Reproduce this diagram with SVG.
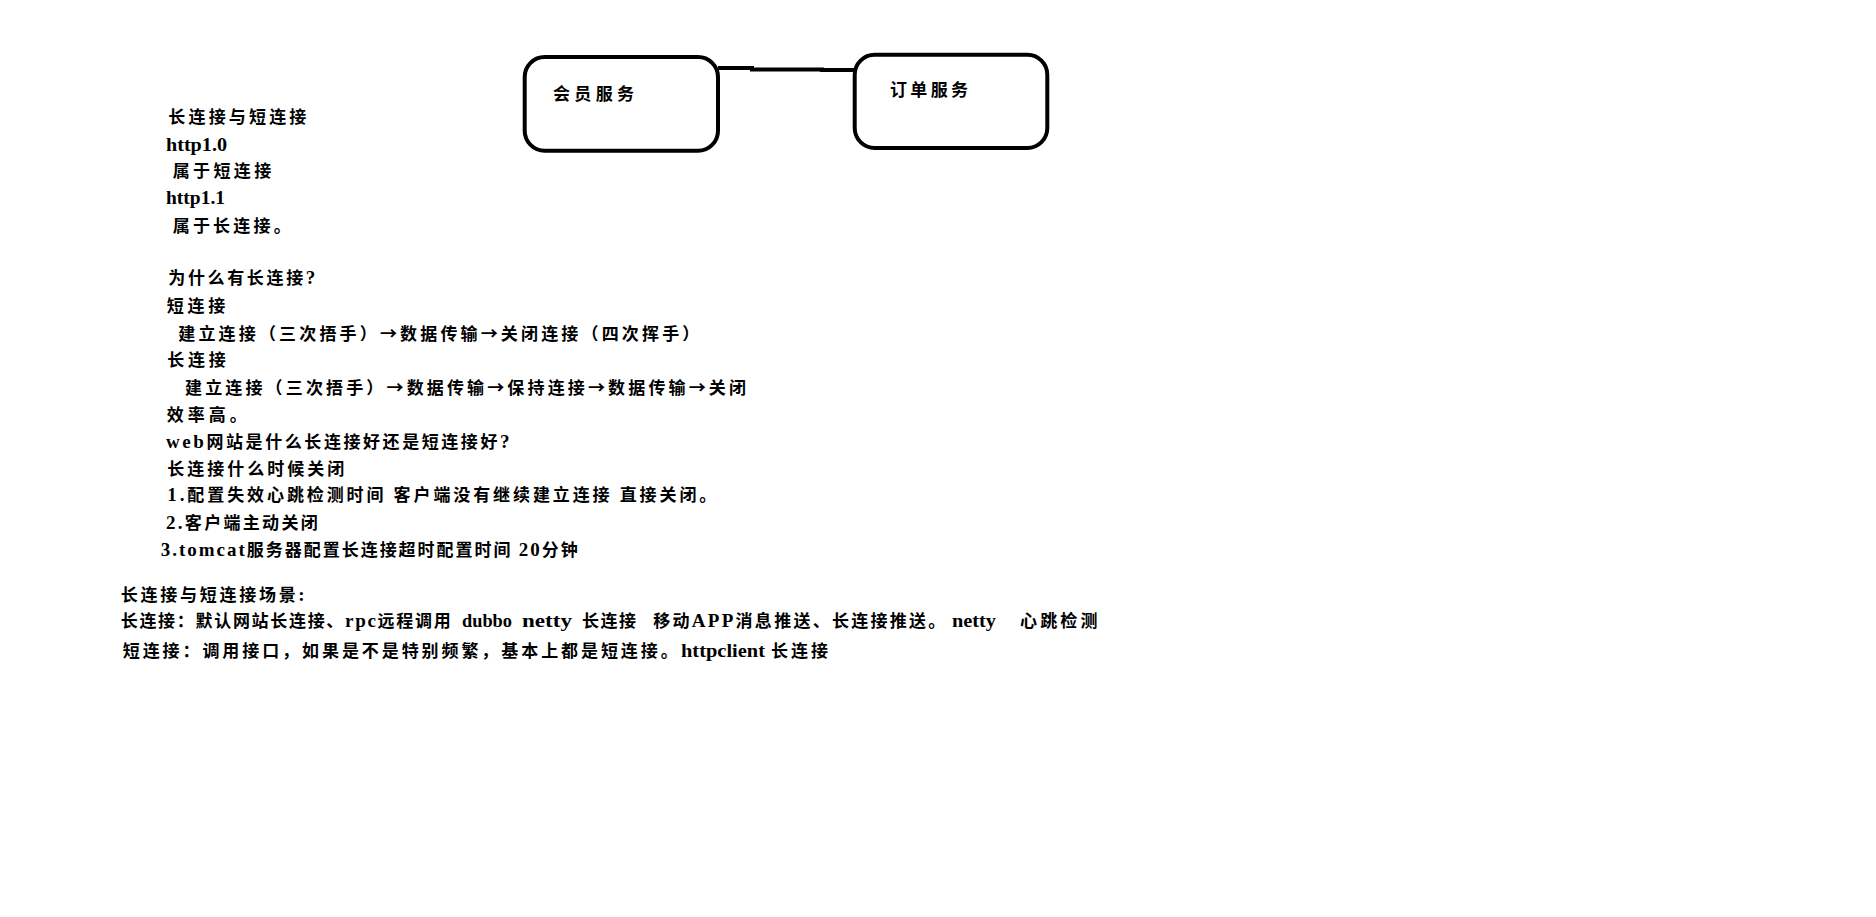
<svg xmlns="http://www.w3.org/2000/svg" width="1876" height="917" viewBox="0 0 1876 917">
<style>
text{font-family:"Liberation Serif","Noto Sans CJK SC",serif;font-weight:bold;font-size:17px;fill:#000}
text.cjk{font-family:"Noto Sans CJK SC",sans-serif}
.lat{font-size:19px}
.box{fill:#fff;stroke:#000;stroke-width:4}
.conn{fill:none;stroke:#000;stroke-width:4}
</style>
<rect width="1876" height="917" fill="#fff"/>
<g id="connectors">
<polyline class="conn" points="718,68 752,68 752,69.5 822,69.5 822,70 855,70"/>
</g>
<g id="member-service">
<rect class="box" x="524.7" y="57" width="193.3" height="93.7" rx="20"/>
<text x="553" y="100" textLength="81" lengthAdjust="spacing">会员服务</text>
</g>
<g id="order-service">
<rect class="box" x="854.7" y="54.7" width="192.6" height="93.3" rx="20"/>
<text x="890" y="96" textLength="78" lengthAdjust="spacing">订单服务</text>
</g>
<g id="notes">
<text x="168.3" y="123" textLength="138" lengthAdjust="spacing">长连接与短连接</text>
<text class="lat" x="166" y="150.5" textLength="61" lengthAdjust="spacingAndGlyphs">http1.0</text>
<text x="172.7" y="177" textLength="98.5" lengthAdjust="spacing">属于短连接</text>
<text class="lat" x="166" y="204" textLength="59" lengthAdjust="spacingAndGlyphs">http1.1</text>
<text x="172.7" y="231.5" textLength="118" lengthAdjust="spacing">属于长连接。</text>
<text x="168.3" y="284" textLength="147" lengthAdjust="spacing">为什么有长连接<tspan class="lat">?</tspan></text>
<text x="166.7" y="312" textLength="58.5" lengthAdjust="spacing">短连接</text>
<text class="cjk" x="178.3" y="339.5" textLength="521" lengthAdjust="spacing">建立连接（三次捂手）→数据传输→关闭连接（四次挥手）</text>
<text x="167.3" y="366" textLength="58.5" lengthAdjust="spacing">长连接</text>
<text class="cjk" x="185" y="394" textLength="561" lengthAdjust="spacing">建立连接（三次捂手）→数据传输→保持连接→数据传输→关闭</text>
<text x="166.7" y="421" textLength="80" lengthAdjust="spacing">效率高。</text>
<text x="166" y="448" textLength="343.5" lengthAdjust="spacing"><tspan class="lat">web</tspan>网站是什么长连接好还是短连接好<tspan class="lat">?</tspan></text>
<text x="167.3" y="474.5" textLength="177" lengthAdjust="spacing">长连接什么时候关闭</text>
<text x="167.3" y="501" textLength="549" lengthAdjust="spacing"><tspan class="lat">1.</tspan>配置失效心跳检测时间 客户端没有继续建立连接 直接关闭。</text>
<text x="166" y="528.7" textLength="151.7" lengthAdjust="spacing"><tspan class="lat">2.</tspan>客户端主动关闭</text>
<text x="160.7" y="556" textLength="417" lengthAdjust="spacing"><tspan class="lat">3.tomcat</tspan>服务器配置长连接超时配置时间 <tspan class="lat">20</tspan>分钟</text>
<text x="120.7" y="601" textLength="184" lengthAdjust="spacing">长连接与短连接场景<tspan class="lat">:</tspan></text>
<text y="627"><tspan x="120.7" textLength="330" lengthAdjust="spacing">长连接：默认网站长连接、<tspan class="lat">rpc</tspan>远程调用</tspan><tspan class="lat" x="462" textLength="50" lengthAdjust="spacingAndGlyphs">dubbo</tspan><tspan class="lat" x="522" textLength="50" lengthAdjust="spacingAndGlyphs">netty</tspan><tspan x="582" textLength="54" lengthAdjust="spacing">长连接</tspan><tspan x="653.3" textLength="292" lengthAdjust="spacing">移动<tspan class="lat">APP</tspan>消息推送、长连接推送。</tspan><tspan class="lat" x="952" textLength="44" lengthAdjust="spacingAndGlyphs">netty</tspan><tspan x="1020" textLength="77.5" lengthAdjust="spacing">心跳检测</tspan></text>
<text y="657"><tspan x="122.7" textLength="555" lengthAdjust="spacing">短连接：调用接口，如果是不是特别频繁，基本上都是短连接。</tspan><tspan class="lat" x="681" textLength="84" lengthAdjust="spacingAndGlyphs">httpclient</tspan><tspan x="771" textLength="57" lengthAdjust="spacing">长连接</tspan></text>
</g>
</svg>
